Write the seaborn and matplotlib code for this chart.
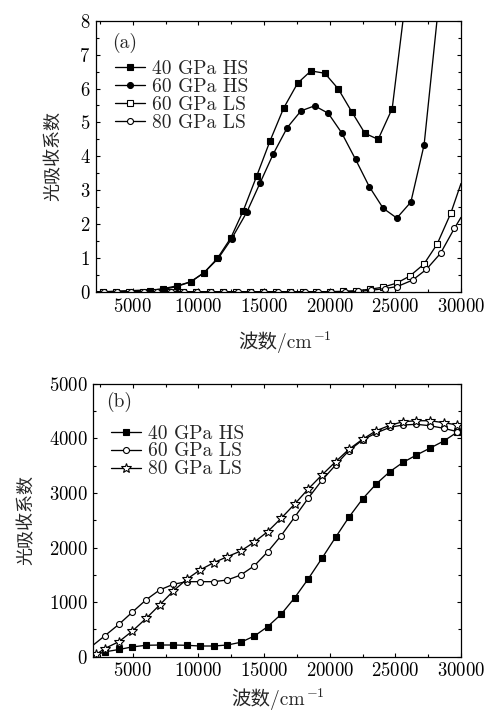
import matplotlib
matplotlib.use('Agg')
import matplotlib.pyplot as plt
import seaborn as sns
from matplotlib.lines import Line2D
from matplotlib.ticker import MultipleLocator

# ---- panel (a) : first and last entries are where the curve meets the frame
a_hs40_x = [2200, 6320, 7330, 8350, 9410, 10430, 11440, 12460, 13420, 14440, 15450, 16490, 17560,
            18570, 19630, 20650, 21670, 22680, 23690, 24760, 25770]
a_hs40_y = [0.0, 0.04, 0.10, 0.18, 0.30, 0.57, 0.99, 1.59, 2.40, 3.42, 4.45, 5.42, 6.16,
            6.52, 6.45, 5.99, 5.32, 4.68, 4.50, 5.41, 8.6]

a_hs60_x = [2200, 7380, 8350, 9410, 10430, 11510, 12530, 13680, 14690, 15700, 16770, 17810, 18850,
            19890, 20900, 21970, 23010, 24070, 25110, 26180, 27190, 28250]
a_hs60_y = [0.0, 0.08, 0.16, 0.30, 0.57, 0.99, 1.57, 2.35, 3.21, 4.07, 4.85, 5.34, 5.49,
            5.27, 4.70, 3.91, 3.11, 2.47, 2.18, 2.65, 4.34, 8.3]

a_ls60_x = [2200, 2720, 3740, 4750, 5770, 6790, 7800, 8820, 9840, 10850, 11870, 12890, 13900, 14920,
            15940, 16950, 17970, 18990, 20000, 21020, 22040, 23050, 24030, 25090, 26100, 27170,
            28180, 29220, 30000]
a_ls60_y = [0.0, 0.01, 0.01, 0.01, 0.01, 0.01, 0.01, 0.01, 0.01, 0.01, 0.01, 0.01, 0.01, 0.01,
            0.01, 0.01, 0.01, 0.01, 0.01, 0.02, 0.04, 0.08, 0.14, 0.26, 0.47, 0.82,
            1.41, 2.32, 3.2]

a_ls80_x = [2200, 2790, 3810, 4830, 5850, 6870, 7890, 8910, 9930, 10950, 11970, 12990, 14010, 15030,
            16050, 17070, 18090, 19110, 20130, 21150, 22170, 23150, 24180, 25140, 26310, 27370,
            28440, 29500, 30000]
a_ls80_y = [0.0, 0.01, 0.01, 0.01, 0.01, 0.01, 0.01, 0.01, 0.01, 0.01, 0.01, 0.01, 0.01, 0.01,
            0.01, 0.01, 0.01, 0.01, 0.01, 0.01, 0.02, 0.05, 0.10, 0.16, 0.35, 0.67,
            1.14, 1.88, 2.2]

# ---- panel (b)
b_x = [2000, 2870, 3950, 4980, 6030, 7050, 8090, 9110, 10120, 11170, 12210, 13230, 14270, 15270,
       16300, 17340, 18360, 19410, 20450, 21460, 22500, 23540, 24580, 25590, 26610, 27620,
       28690, 29730, 30000]
b_hs40_y = [30, 88, 132, 180, 209, 214, 214, 209, 196, 196, 214, 264, 379, 549,
            776, 1081, 1423, 1802, 2187, 2553, 2888, 3163, 3389, 3560, 3694, 3817,
            3951, 4115, 4140]
b_ls60_y = [214, 382, 593, 818, 1044, 1222, 1326, 1374, 1374, 1374, 1405, 1496, 1667, 1918,
            2216, 2559, 2901, 3231, 3511, 3773, 3969, 4097, 4201, 4244, 4256, 4231,
            4183, 4121, 4110]
b_ls80_x = [2000, 2230] + b_x[1:]
b_ls80_y = [10, 44, 150, 275, 471, 703, 947, 1203, 1417, 1588, 1722, 1832, 1936, 2101, 2289,
            2534, 2797, 3071, 3328, 3571, 3798, 3982, 4139, 4238, 4304, 4322, 4322, 4286,
            4244, 4235]

sns.set_style('ticks')
plt.rcParams['font.family'] = ['cmr10', 'Noto Sans CJK SC', 'DejaVu Serif']
plt.rcParams['axes.formatter.use_mathtext'] = True
plt.rcParams['mathtext.fontset'] = 'cm'
plt.rcParams['axes.unicode_minus'] = False

fig = plt.figure(figsize=(4.85, 7.11), dpi=100)
ax_a = fig.add_axes([96 / 485, 1 - 292 / 711, 365 / 485, 271.3 / 711])
ax_b = fig.add_axes([93.3 / 485, 1 - 656.7 / 711, 367.7 / 485, 273 / 711])

LW = 0.95


def draw(ax, x, y, marker, face, ms):
    sns.lineplot(x=x, y=y, ax=ax, color='k', lw=LW, sort=False, estimator=None)
    sns.lineplot(x=x[1:-1], y=y[1:-1], ax=ax, color='k', lw=0, sort=False, estimator=None,
                 marker=marker, markersize=ms, markerfacecolor=face, markeredgecolor='k',
                 markeredgewidth=0.8)
    return Line2D([], [], color='k', lw=LW, marker=marker, markersize=ms,
                  markerfacecolor=face, markeredgecolor='k', markeredgewidth=0.8)


h_a = [draw(ax_a, a_hs40_x, a_hs40_y, 's', 'k', 4),
       draw(ax_a, a_hs60_x, a_hs60_y, 'o', 'k', 4.3),
       draw(ax_a, a_ls60_x, a_ls60_y, 's', 'white', 4),
       draw(ax_a, a_ls80_x, a_ls80_y, 'o', 'white', 4.3)]
lab_a = ['40 GPa HS', '60 GPa HS', '60 GPa LS', '80 GPa LS']

h_b = [draw(ax_b, b_x, b_hs40_y, 's', 'k', 4),
       draw(ax_b, b_x, b_ls60_y, 'o', 'white', 4.3),
       draw(ax_b, b_ls80_x, b_ls80_y, '*', 'white', 7.5)]
lab_b = ['40 GPa HS', '60 GPa LS', '80 GPa LS']

ax_a.set_xlim(2200, 30000)
ax_a.set_ylim(0, 8)
ax_a.yaxis.set_major_locator(MultipleLocator(1))
ax_a.yaxis.set_minor_locator(MultipleLocator(0.5))
ax_b.set_xlim(2000, 30000)
ax_b.set_ylim(0, 5000)
ax_b.yaxis.set_major_locator(MultipleLocator(1000))
ax_b.yaxis.set_minor_locator(MultipleLocator(500))

for ax in (ax_a, ax_b):
    ax.xaxis.set_major_locator(MultipleLocator(5000))
    ax.xaxis.set_minor_locator(MultipleLocator(2500))
    ax.tick_params(which='both', direction='in', top=True, right=True, labelsize=13.5,
                   width=0.8, color='k', labelcolor='k')
    ax.tick_params(which='major', length=3.2, pad=4)
    ax.tick_params(which='minor', length=2.5)
    for s in ax.spines.values():
        s.set_linewidth(0.9)
        s.set_color('k')
    ax.set_xlabel('波数/cm', fontsize=14)
    ax.set_ylabel('光吸收系数', fontsize=13)
    ax.annotate(r'$-1$', xy=(1.0, 1.0), xycoords=ax.xaxis.label, xytext=(1, 1),
                textcoords='offset points', fontsize=10, ha='left', va='top')

ax_a.xaxis.set_label_coords(0.49, -0.144)
ax_a.yaxis.set_label_coords(-0.095, 0.5)
ax_b.xaxis.set_label_coords(0.475, -0.115)
ax_b.yaxis.set_label_coords(-0.16, 0.5)

ax_a.text(0.044, 0.918, '(a)', transform=ax_a.transAxes, fontsize=14, va='center', ha='left')
ax_b.text(0.035, 0.934, '(b)', transform=ax_b.transAxes, fontsize=14, va='center', ha='left')

ax_a.legend(h_a, lab_a, loc='upper left', bbox_to_anchor=(0.052, 0.855), frameon=False,
            fontsize=14, handlelength=1.55, handletextpad=0.35, labelspacing=0.0,
            borderpad=0, borderaxespad=0)
ax_b.legend(h_b, lab_b, loc='upper left', bbox_to_anchor=(0.048, 0.85), frameon=False,
            fontsize=14, handlelength=1.55, handletextpad=0.35, labelspacing=0.0,
            borderpad=0, borderaxespad=0)

fig.savefig('out.png', dpi=100)
